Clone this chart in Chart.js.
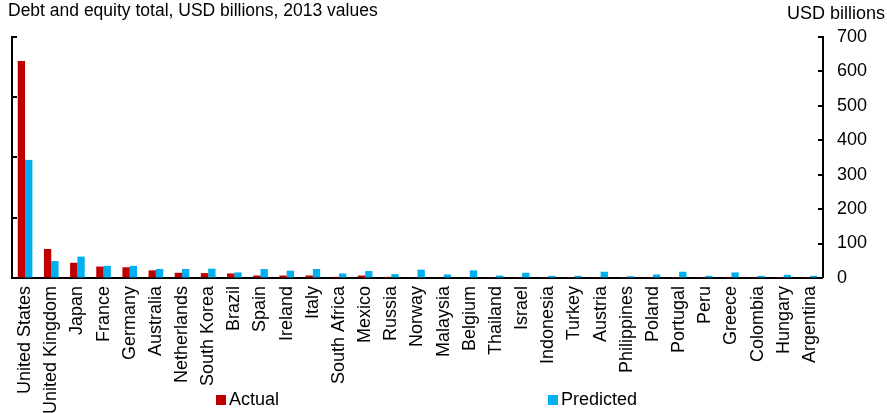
<!DOCTYPE html>
<html>
<head>
<meta charset="utf-8">
<script src="https://cdn.jsdelivr.net/npm/chart.js@4"></script>
<style>
  body { margin: 0; background: #fff; }
  #wrap { position: relative; width: 887px; height: 413px; overflow: hidden; font-family: "Liberation Sans", Arial, sans-serif; color: #000; }
  #MyChart { position: absolute; left: 0; top: 0; }
  #title { position: absolute; left: 8px; top: 0px; font-size: 17.5px; white-space: nowrap; }
  #unit { position: absolute; right: 2px; top: 3px; font-size: 18px; white-space: nowrap; }
  .leg { position: absolute; top: 389px; font-size: 18px; white-space: nowrap; background: #fff; }
  .leg span { display: inline-block; width: 10px; height: 10px; margin-right: 3px; }
</style>
</head>
<body>
<div id="wrap">
  <canvas id="MyChart" width="887" height="422"></canvas>
  <div id="title">Debt and equity total, USD billions, 2013 values</div>
  <div id="unit">USD billions</div>
  <div class="leg" id="legActual" style="left:216px"><span></span>Actual</div>
  <div class="leg" id="legPredicted" style="left:548px"><span></span>Predicted</div>
</div>
<script>
var countries = ['United States', 'United Kingdom', 'Japan', 'France', 'Germany', 'Australia',
    'Netherlands', 'South Korea', 'Brazil', 'Spain', 'Ireland', 'Italy', 'South Africa', 'Mexico',
    'Russia', 'Norway', 'Malaysia', 'Belgium', 'Thailand', 'Israel', 'Indonesia', 'Turkey',
    'Austria', 'Philippines', 'Poland', 'Portugal', 'Peru', 'Greece', 'Colombia', 'Hungary', 'Argentina'];
var actual = [630, 84, 44, 33, 31, 22, 15, 14, 13, 7, 7, 7, 3, 7,
    3, 2, 1, 1, 0.5, 0.5, 0.5, 0.5, 0.5, 0.5, 0.5, 0.5, 0.5, 0.5, 0.5, 0.5, 0.5];
var predicted = [343, 49, 62, 35, 35, 26, 26, 27, 16, 26, 21, 26, 13, 20,
    11, 24, 10, 22, 7, 15, 6, 6, 18, 5, 10, 18, 6, 16, 6, 9, 6];
var rightTicks = [0, 100, 200, 300, 400, 500, 600, 700];
var leftTicks = [0, 1, 2, 3, 4];
var seriesNames = ['Actual', 'Predicted'];
var seriesColors = ['#c00000', '#00b0f0'];

document.querySelector('#legActual span').style.background = seriesColors[0];
document.querySelector('#legPredicted span').style.background = seriesColors[1];

Chart.defaults.font.family = '"Liberation Sans", Arial, sans-serif';
Chart.defaults.font.size = 18;
Chart.defaults.color = '#000';

// small inward tick marks on both value axes
var inwardTicks = {
    id: 'inwardTicks',
    afterDraw: function (chart) {
        var ctx = chart.ctx;
        ctx.save();
        ctx.strokeStyle = '#000';
        ctx.lineWidth = 2;
        ['yLeft', 'y'].forEach(function (id) {
            var scale = chart.scales[id];
            var x0 = id === 'y' ? chart.chartArea.right : chart.chartArea.left;
            var dir = id === 'y' ? -1 : 1;
            scale.ticks.forEach(function (t) {
                var py = Math.round(scale.getPixelForValue(t.value));
                ctx.beginPath();
                ctx.moveTo(x0, py);
                ctx.lineTo(x0 + dir * 5, py);
                ctx.stroke();
            });
        });
        ctx.restore();
    }
};

var ctx = document.getElementById('MyChart').getContext('2d');
var MyChart = new Chart(ctx, {
    type: 'bar',
    data: {
        labels: countries,
        datasets: [{
            label: seriesNames[0],
            data: actual,
            backgroundColor: seriesColors[0],
            yAxisID: 'y'
        }, {
            label: seriesNames[1],
            data: predicted,
            backgroundColor: seriesColors[1],
            yAxisID: 'y'
        }]
    },
    options: {
        responsive: false,
        animation: false,
        devicePixelRatio: 1,
        layout: { padding: { left: 12, right: 6, top: 37, bottom: 0 } },
        datasets: { bar: { barPercentage: 1, categoryPercentage: 0.56 } },
        plugins: {
            legend: { display: false },
            tooltip: { enabled: false }
        },
        scales: {
            x: {
                grid: { display: false, drawTicks: false },
                border: { color: '#000', width: 2 },
                ticks: { minRotation: 90, maxRotation: 90, autoSkip: false, padding: 8 }
            },
            yLeft: {
                position: 'left',
                min: 0,
                max: 4,
                afterBuildTicks: function (scale) {
                    scale.ticks = leftTicks.map(function (v) { return { value: v }; });
                },
                grid: { drawOnChartArea: false, drawTicks: false },
                border: { color: '#000', width: 2 },
                ticks: { display: false }
            },
            y: {
                position: 'right',
                min: 0,
                max: 700,
                afterBuildTicks: function (scale) {
                    scale.ticks = rightTicks.map(function (v) { return { value: v }; });
                },
                grid: { drawOnChartArea: false, drawTicks: false },
                border: { color: '#000', width: 2 },
                ticks: { padding: 14 }
            }
        }
    },
    plugins: [inwardTicks]
});
</script>
</body>
</html>
